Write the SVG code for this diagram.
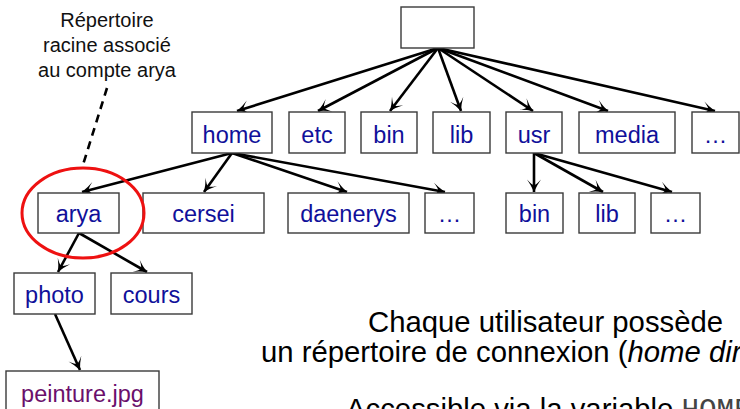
<svg xmlns="http://www.w3.org/2000/svg" width="740" height="409" viewBox="0 0 740 409">
  <defs>
    <style>
      .box { fill: #ffffff; stroke: #3a3a3a; stroke-width: 1.4; }
      .lbl { font-family: "Liberation Sans", Arial, sans-serif; font-size: 23.5px; fill: #10109a; text-anchor: middle; }
      .file { fill: #6b0f6b; }
      .edge { stroke: #000; stroke-width: 2.6; fill: none; marker-end: url(#arr); }
      .note { font-family: "Liberation Sans", Arial, sans-serif; font-size: 20px; fill: #111; text-anchor: middle; }
      .body { font-family: "Liberation Sans", Arial, sans-serif; font-size: 29.3px; fill: #000; }
    </style>
    <marker id="arr" markerUnits="userSpaceOnUse" markerWidth="16" markerHeight="16" viewBox="-13 -8 15 16" refX="0" refY="0" orient="auto">
      <path d="M0,0 Q-7,-3 -12.5,-7 Q-7,-2 -7,0 Q-7,2 -12.5,7 Q-7,3 0,0 Z" fill="#000"/>
    </marker>
  </defs>

  <!-- connectors -->
  <g id="connectors">
    <line class="edge" x1="438" y1="48" x2="237" y2="111"/>
    <line class="edge" x1="438" y1="48" x2="318" y2="111"/>
    <line class="edge" x1="438" y1="48" x2="390" y2="111"/>
    <line class="edge" x1="438" y1="48" x2="461" y2="111"/>
    <line class="edge" x1="438" y1="48" x2="533" y2="111"/>
    <line class="edge" x1="438" y1="48" x2="608" y2="111"/>
    <line class="edge" x1="438" y1="48" x2="715" y2="111"/>

    <line class="edge" x1="232" y1="153" x2="82" y2="192"/>
    <line class="edge" x1="232" y1="153" x2="204" y2="192"/>
    <line class="edge" x1="232" y1="153" x2="347" y2="192"/>
    <line class="edge" x1="232" y1="153" x2="445" y2="192"/>

    <line class="edge" x1="534" y1="153" x2="534" y2="192"/>
    <line class="edge" x1="534" y1="153" x2="603" y2="192"/>
    <line class="edge" x1="534" y1="153" x2="672" y2="192"/>

    <line class="edge" x1="79" y1="233" x2="58" y2="272"/>
    <line class="edge" x1="79" y1="233" x2="147" y2="272"/>

    <line class="edge" x1="55" y1="314" x2="80" y2="370"/>
  </g>

  <!-- root -->
  <g id="root"><rect class="box" x="401" y="7" width="73" height="41"/></g>

  <!-- first level -->
  <g id="home"><rect class="box" x="192" y="112" width="80" height="41"/><text class="lbl" x="232" y="143">home</text></g>
  <g id="etc"><rect class="box" x="289" y="112" width="56" height="41"/><text class="lbl" x="317" y="143">etc</text></g>
  <g id="bin"><rect class="box" x="361" y="112" width="56" height="41"/><text class="lbl" x="389" y="143">bin</text></g>
  <g id="lib"><rect class="box" x="433" y="112" width="57" height="41"/><text class="lbl" x="461.5" y="143">lib</text></g>
  <g id="usr"><rect class="box" x="506" y="112" width="56" height="41"/><text class="lbl" x="534" y="143">usr</text></g>
  <g id="media"><rect class="box" x="579" y="112" width="96" height="41"/><text class="lbl" x="627" y="143">media</text></g>
  <g id="more-root"><rect class="box" x="692" y="112" width="47" height="41"/><text class="lbl" x="715.5" y="143">…</text></g>

  <!-- users -->
  <g id="arya"><rect class="box" x="38" y="193" width="81" height="40"/><text class="lbl" x="78.5" y="222">arya</text></g>
  <g id="cersei"><rect class="box" x="143" y="193" width="121" height="40"/><text class="lbl" x="203.5" y="222">cersei</text></g>
  <g id="daenerys"><rect class="box" x="288" y="193" width="121" height="40"/><text class="lbl" x="348.5" y="222">daenerys</text></g>
  <g id="more-home"><rect class="box" x="425" y="193" width="49" height="40"/><text class="lbl" x="449.5" y="222">…</text></g>

  <!-- usr children -->
  <g id="usr-bin"><rect class="box" x="506" y="193" width="57" height="40"/><text class="lbl" x="534.5" y="222">bin</text></g>
  <g id="usr-lib"><rect class="box" x="579" y="193" width="56" height="40"/><text class="lbl" x="607" y="222">lib</text></g>
  <g id="more-usr"><rect class="box" x="651" y="193" width="49" height="40"/><text class="lbl" x="675.5" y="222">…</text></g>

  <!-- arya's folders -->
  <g id="photo"><rect class="box" x="14" y="273" width="81" height="41"/><text class="lbl" x="54.5" y="303">photo</text></g>
  <g id="cours"><rect class="box" x="111" y="273" width="81" height="41"/><text class="lbl" x="151.5" y="303">cours</text></g>
  <g id="peinture"><rect class="box" x="6" y="371" width="153" height="50"/><text class="lbl file" x="82.5" y="402">peinture.jpg</text></g>

  <!-- home directory highlight and note -->
  <g id="note">
    <ellipse cx="83" cy="213" rx="61" ry="45" fill="none" stroke="#ee1111" stroke-width="3"/>
    <line x1="107" y1="88" x2="82" y2="168" stroke="#000" stroke-width="2.6" stroke-dasharray="8,6"/>
    <text class="note" x="107" y="27">Répertoire</text>
    <text class="note" x="107" y="52">racine associé</text>
    <text class="note" x="107" y="77">au compte arya</text>
  </g>

  <!-- explanatory text -->
  <g id="caption">
    <text class="body" x="368" y="332">Chaque utilisateur possède</text>
    <text class="body" x="261" y="362">un répertoire de connexion (<tspan font-style="italic">home directory</tspan>)</text>
    <text class="body" x="346" y="419">Accessible via la variable <tspan font-family="'Liberation Mono', 'Courier New', monospace" fill="#444">HOME</tspan></text>
  </g>
</svg>
